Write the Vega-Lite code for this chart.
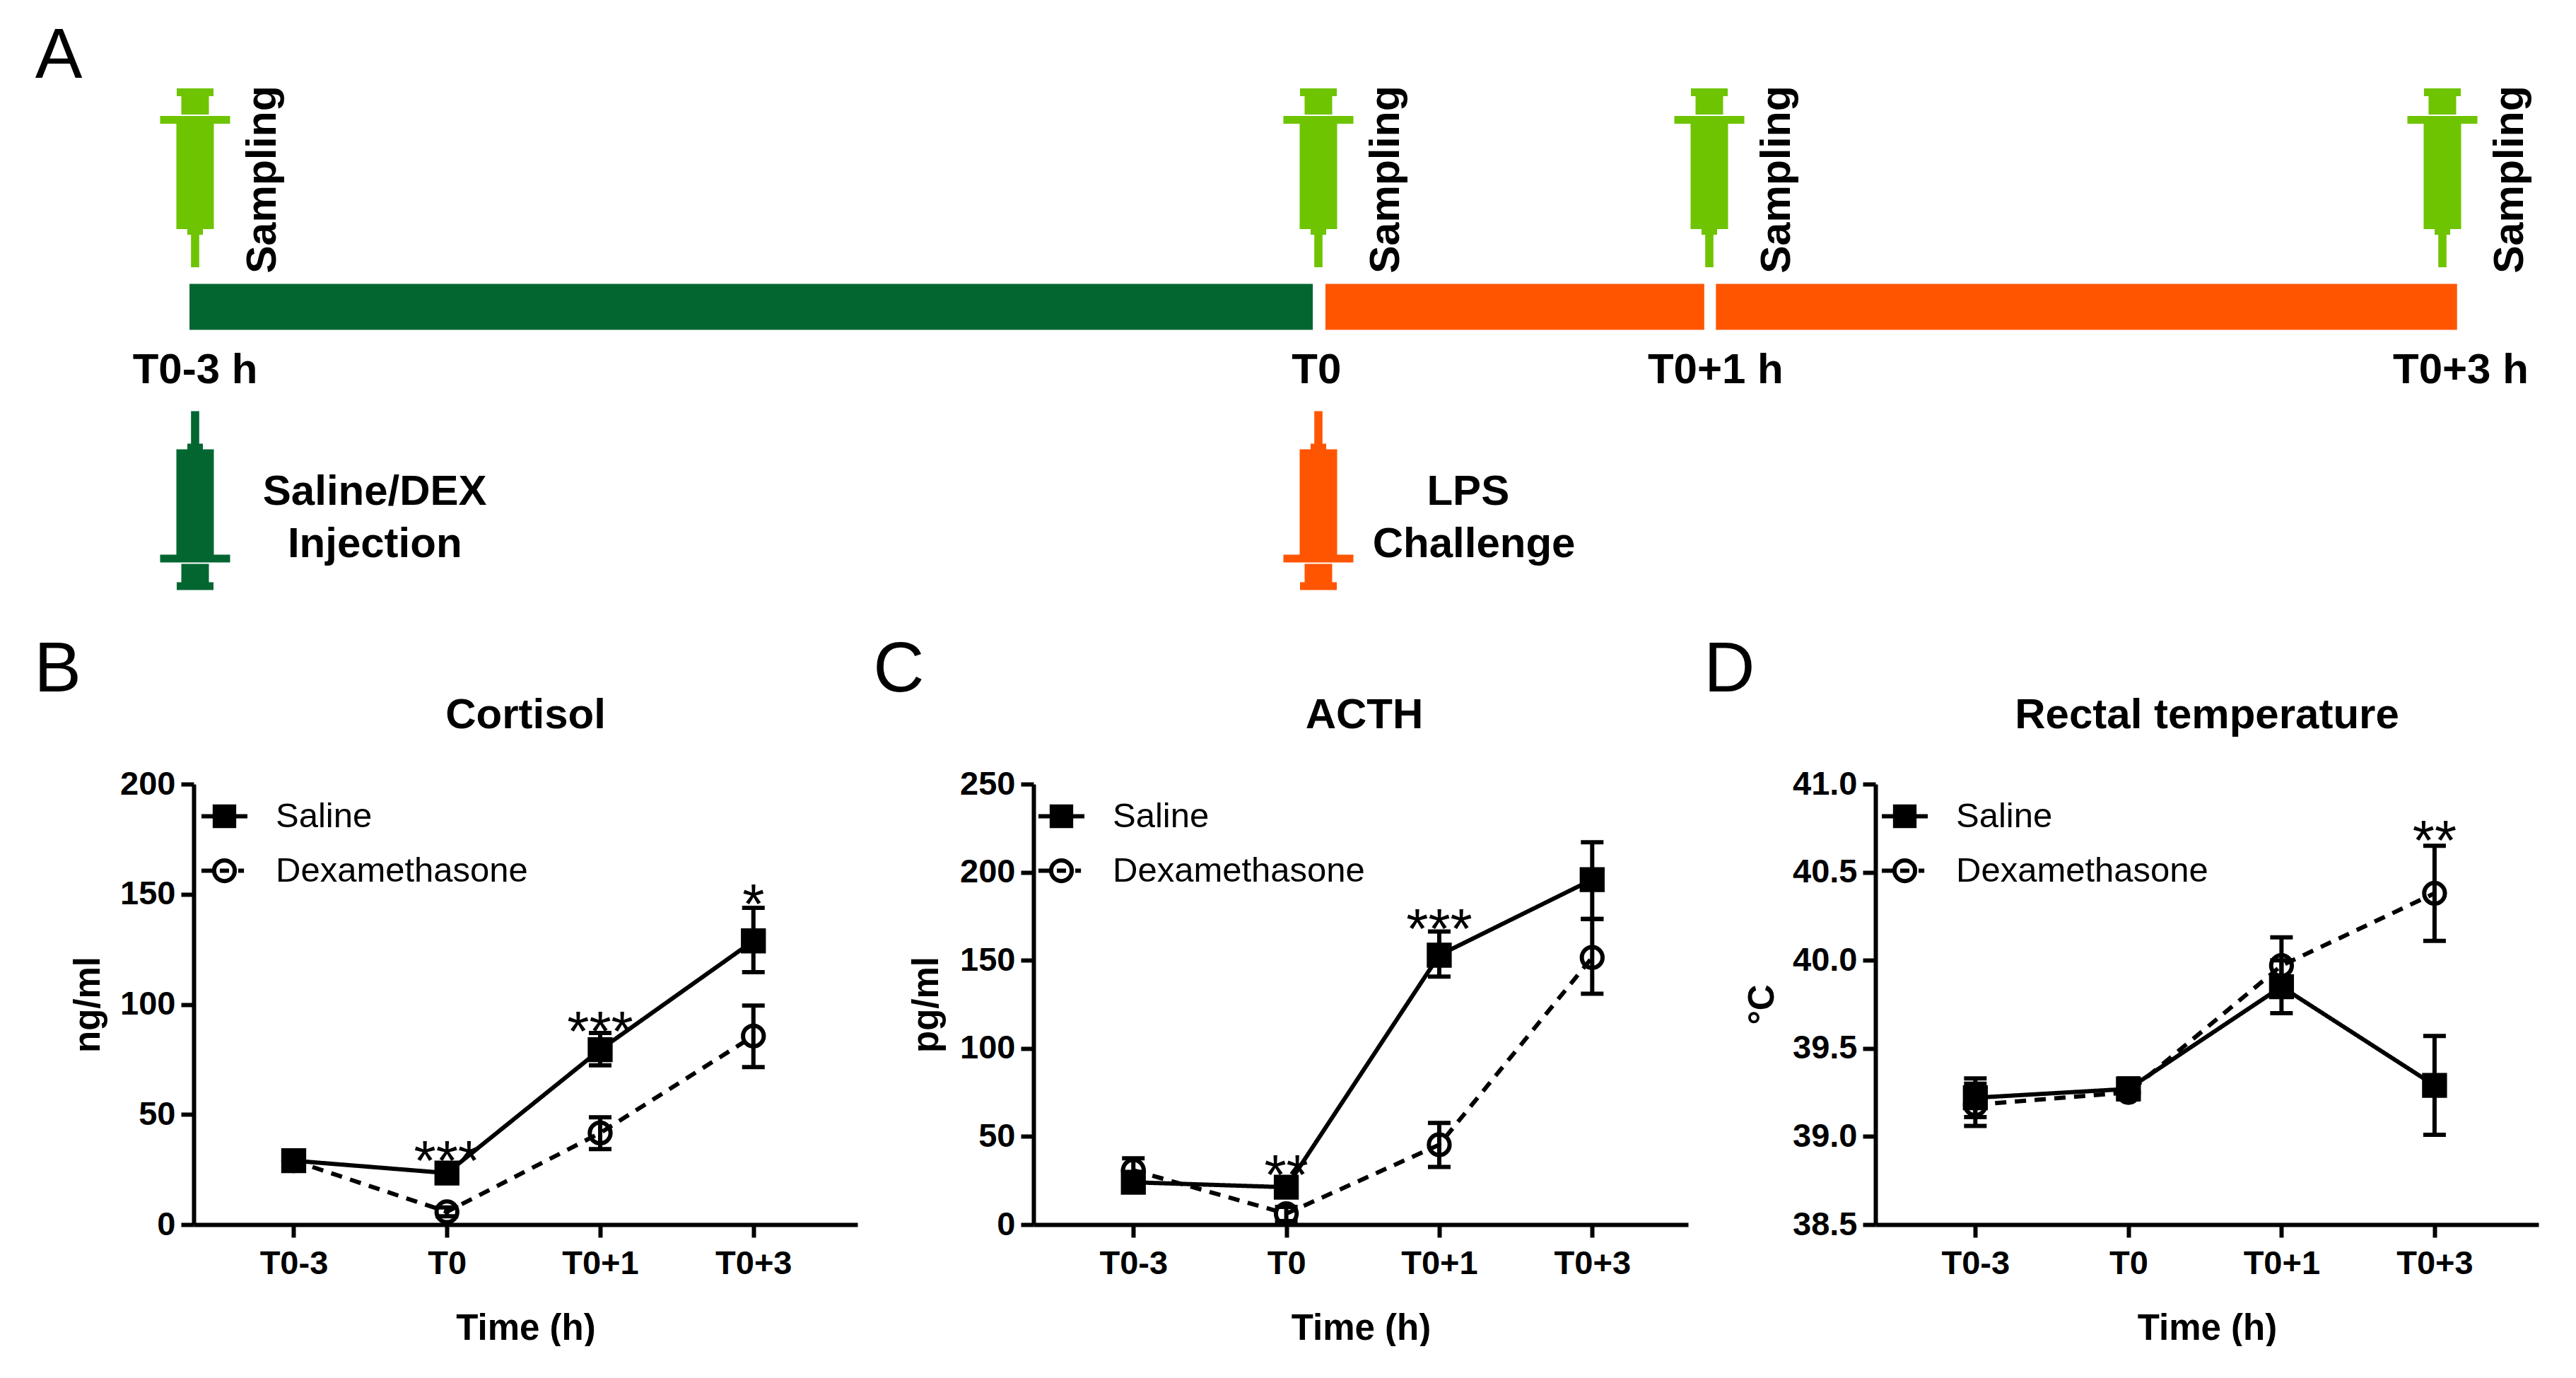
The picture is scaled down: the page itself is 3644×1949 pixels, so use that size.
{
"$schema":"https://vega.github.io/schema/vega-lite/v6.json",
"background":"white",
"padding":{"left":48,"top":0,"right":0,"bottom":0},
"spacing":18,
"resolve":{"scale":{"shape":"independent","fill":"independent","strokeDash":"independent"},"legend":{"fill":"independent"}},
"config":{
 "view":{"stroke":null},
 "font":"Liberation Sans",
 "title":{"font":"Liberation Sans","fontSize":60,"fontWeight":"bold","color":"#000","offset":48,"dy":193},
 "axis":{"grid":false,"domainColor":"#000","domainWidth":6,"tickColor":"#000","tickWidth":6,"tickSize":18,"labelColor":"#000","labelFont":"Liberation Sans","labelFontSize":47,"labelFontWeight":"bold","titleFont":"Liberation Sans","titleFontSize":51,"titleFontWeight":"bold","titleColor":"#000"},
 "legend":{"labelFont":"Liberation Sans","labelFontSize":49,"labelColor":"#000","symbolSize":4225,"symbolStrokeWidth":6,"rowPadding":15,"padding":0,"labelOffset":37,"labelLimit":600}
},
"datasets":{
 "cortisol":[
  {"time":"T0-3","group":"Saline","mean":29,"low":26,"high":32},
  {"time":"T0","group":"Saline","mean":23.4,"low":20.5,"high":26.5},
  {"time":"T0+1","group":"Saline","mean":79.4,"low":72.3,"high":87},
  {"time":"T0+3","group":"Saline","mean":128.8,"low":114.6,"high":143.8},
  {"time":"T0-3","group":"Dexamethasone","mean":29,"low":26,"high":32},
  {"time":"T0","group":"Dexamethasone","mean":5.8,"low":3.8,"high":7.8},
  {"time":"T0+1","group":"Dexamethasone","mean":41.6,"low":34.3,"high":48.7},
  {"time":"T0+3","group":"Dexamethasone","mean":85.6,"low":71.5,"high":99.4}],
 "cortisolStars":[{"time":"T0","mean":33,"stars":"***"},{"time":"T0+1","mean":91.8,"stars":"***"},{"time":"T0+3","mean":149.6,"stars":"*"}],
 "acth":[
  {"time":"T0-3","group":"Saline","mean":24,"low":19,"high":29},
  {"time":"T0","group":"Saline","mean":21.2,"low":17,"high":25.5},
  {"time":"T0+1","group":"Saline","mean":152.9,"low":140.8,"high":166.3},
  {"time":"T0+3","group":"Saline","mean":195.8,"low":173.5,"high":217},
  {"time":"T0-3","group":"Dexamethasone","mean":30.8,"low":24,"high":37.6},
  {"time":"T0","group":"Dexamethasone","mean":6.2,"low":2,"high":10},
  {"time":"T0+1","group":"Dexamethasone","mean":45.3,"low":32.7,"high":57.7},
  {"time":"T0+3","group":"Dexamethasone","mean":151.6,"low":131,"high":173.5}],
 "acthStars":[{"time":"T0","mean":33.5,"stars":"**"},{"time":"T0+1","mean":173,"stars":"***"}],
 "temperature":[
  {"time":"T0-3","group":"Saline","mean":39.22,"low":39.11,"high":39.33},
  {"time":"T0","group":"Saline","mean":39.27,"low":39.21,"high":39.33},
  {"time":"T0+1","group":"Saline","mean":39.85,"low":39.7,"high":40.0},
  {"time":"T0+3","group":"Saline","mean":39.29,"low":39.01,"high":39.57},
  {"time":"T0-3","group":"Dexamethasone","mean":39.18,"low":39.06,"high":39.3},
  {"time":"T0","group":"Dexamethasone","mean":39.25,"low":39.21,"high":39.29},
  {"time":"T0+1","group":"Dexamethasone","mean":39.97,"low":39.82,"high":40.13},
  {"time":"T0+3","group":"Dexamethasone","mean":40.38,"low":40.11,"high":40.65}],
 "temperatureStars":[{"time":"T0+3","mean":40.73,"stars":"**"}],
 "phases":[
  {"start":-3.015,"end":-0.015,"phase":"Saline/DEX"},
  {"start":0.018,"end":0.987,"phase":"LPS"},
  {"start":1.018,"end":3.04,"phase":"LPS"}],
 "sampling":[{"time":-3,"label":"Sampling"},{"time":0,"label":"Sampling"},{"time":1,"label":"Sampling"},{"time":3,"label":"Sampling"}],
 "timeLabels":[{"time":-3,"label":"T0-3 h"},{"time":-0.005,"label":"T0"},{"time":1.017,"label":"T0+1 h"},{"time":3.05,"label":"T0+3 h"}],
 "injections":[{"time":-3,"agent":"Saline/DEX"},{"time":0,"agent":"LPS"}],
 "notesTop":[{"time":-2.52,"label":"Saline/DEX"},{"time":0.383,"label":"LPS"}],
 "notesBottom":[{"time":-2.52,"label":"Injection"},{"time":0.398,"label":"Challenge"}]
},
"vconcat":[
 {
  "width":3371,"height":880,
  "encoding":{"x":{"field":"time","type":"quantitative","axis":null,"scale":{"domain":[-3,0,1,3],"range":[2,1591,2144,3181]}}},
  "layer":[
   {"data":{"name":"phases"},"mark":{"type":"rule","strokeWidth":65,"strokeCap":"butt"},
    "encoding":{"x":{"field":"start","type":"quantitative"},"x2":{"field":"end"},
     "y":{"datum":4.932,"type":"quantitative","axis":null,"scale":{"domain":[0,10],"range":[0,880]}},
     "color":{"field":"phase","type":"nominal","legend":null,"scale":{"domain":["Saline/DEX","LPS"],"range":["#036631","#FF5500"]}}}},
   {"data":{"name":"sampling"},"mark":{"type":"point","filled":true,"opacity":1,"size":40000,"color":"#6EC400","shape":"M-0.26,-1.265H0.26V-1.155H0.195V-0.895H-0.195V-1.155H-0.26ZM-0.495,-0.875H0.495V-0.765H0.265V0.725H0.11V0.805H0.058V1.265H-0.058V0.805H-0.11V0.725H-0.265V-0.765H-0.495Z"},
    "encoding":{"y":{"datum":2.858,"type":"quantitative"}}},
   {"data":{"name":"sampling"},"mark":{"type":"text","font":"Liberation Sans","fontSize":59,"fontWeight":"bold","angle":270,"align":"center","baseline":"middle","color":"#000","xOffset":96},
    "encoding":{"y":{"datum":2.886,"type":"quantitative"},"text":{"field":"label"}}},
   {"data":{"name":"timeLabels"},"mark":{"type":"text","font":"Liberation Sans","fontSize":60,"fontWeight":"bold","align":"center","baseline":"middle","color":"#000"},
    "encoding":{"y":{"datum":5.955,"type":"quantitative"},"text":{"field":"label"}}},
   {"data":{"name":"injections"},"mark":{"type":"point","filled":true,"opacity":1,"size":40000,"shape":"M-0.26,1.265H0.26V1.155H0.195V0.895H-0.195V1.155H-0.26ZM-0.495,0.875H0.495V0.765H0.265V-0.725H0.11V-0.805H0.058V-1.265H-0.058V-0.805H-0.11V-0.725H-0.265V0.765H-0.495Z"},
    "encoding":{"y":{"datum":8.045,"type":"quantitative"},"color":{"field":"agent","type":"nominal","legend":null,"scale":{"domain":["Saline/DEX","LPS"],"range":["#036631","#FF5500"]}}}},
   {"data":{"name":"notesTop"},"mark":{"type":"text","font":"Liberation Sans","fontSize":60,"fontWeight":"bold","align":"center","baseline":"middle","color":"#000"},
    "encoding":{"y":{"datum":7.909,"type":"quantitative"},"text":{"field":"label"}}},
   {"data":{"name":"notesBottom"},"mark":{"type":"text","font":"Liberation Sans","fontSize":60,"fontWeight":"bold","align":"center","baseline":"middle","color":"#000"},
    "encoding":{"y":{"datum":8.75,"type":"quantitative"},"text":{"field":"label"}}},
   {"data":{"values":[{"time":-3,"panel":"A"}]},"mark":{"type":"text","font":"Liberation Sans","fontSize":100,"align":"center","baseline":"middle","color":"#000","xOffset":-193},
    "encoding":{"y":{"datum":0.909,"type":"quantitative"},"text":{"field":"panel"}}}
  ]
 },
 {
  "resolve":{"scale":{"shape":"independent","fill":"independent","strokeDash":"independent"},"legend":{"fill":"independent"}},
  "hconcat":[
   {
    "width":939,"height":623,
    "title":"Cortisol",
    "encoding":{
     "x":{"field":"time","type":"nominal","sort":null,"title":"Time (h)","scale":{"type":"point","domain":["T0-3","T0","T0+1","T0+3"],"padding":0.666,"align":0.49},"axis":{"labelAngle":0,"labelPadding":14,"titlePadding":44}},
     "y":{"field":"mean","type":"quantitative","title":"ng/ml","scale":{"domain":[0,200],"nice":false},"axis":{"values":[0,50,100,150,200],"labelPadding":8,"titleX":-123}}
    },
    "layer":[
     {"data":{"name":"cortisol"},"mark":{"type":"line","color":"#000","strokeWidth":6},"encoding":{"strokeDash":{"field":"group","type":"nominal","legend":null,"scale":{"domain":["Dexamethasone","Saline"],"range":[[16,12],[1,0]]}}}},
     {"data":{"name":"cortisol"},"mark":{"type":"rule","color":"#000","strokeWidth":6},"encoding":{"y":{"field":"low","type":"quantitative"},"y2":{"field":"high"}}},
     {"data":{"name":"cortisol"},"mark":{"type":"tick","color":"#000","thickness":6,"size":32,"opacity":1},"encoding":{"y":{"field":"low","type":"quantitative"}}},
     {"data":{"name":"cortisol"},"mark":{"type":"tick","color":"#000","thickness":6,"size":32,"opacity":1},"encoding":{"y":{"field":"high","type":"quantitative"}}},
     {"data":{"name":"cortisol"},"mark":{"type":"point","filled":true,"opacity":1,"stroke":"#000","strokeWidth":6,"size":860},
      "encoding":{
       "shape":{"field":"group","type":"nominal","legend":null,"scale":{"domain":["Dexamethasone","Saline"],"range":["circle","square"]}},
       "fill":{"field":"group","type":"nominal","title":null,"scale":{"domain":["Saline","Dexamethasone"],"range":["#000","transparent"]},
        "legend":{"orient":"none","legendX":8,"legendY":10,"title":null,"encoding":{"symbols":{
         "shape":{"value":{"expr":"datum.value === 'Saline' ? 'M-1,0H1M-0.42,-0.42H0.42V0.42H-0.42Z' : 'M-0.45,0A0.45,0.45 0 1 1 0.45,0A0.45,0.45 0 1 1 -0.45,0ZM-1,0H-0.5M-0.2,0H0.2M0.6,0H0.85'"}},
         "stroke":{"value":"#000"},"opacity":{"value":1}}}}}}},
     {"data":{"name":"cortisolStars"},"mark":{"type":"text","font":"Liberation Sans","fontSize":80,"baseline":"alphabetic","align":"center","color":"#000","yOffset":40},"encoding":{"text":{"field":"stars"}}},
     {"data":{"values":[{"panel":"B","time":"T0-3","mean":200}]},"mark":{"type":"text","font":"Liberation Sans","fontSize":100,"baseline":"middle","align":"center","color":"#000","xOffset":-334,"yOffset":-161},"encoding":{"text":{"field":"panel"}}}
    ]
   },
   {
    "width":926,"height":623,
    "title":{"text":"ACTH","dx":5},
    "encoding":{
     "x":{"field":"time","type":"nominal","sort":null,"title":"Time (h)","scale":{"type":"point","domain":["T0-3","T0","T0+1","T0+3"],"padding":0.64,"align":0.51},"axis":{"labelAngle":0,"labelPadding":14,"titlePadding":44}},
     "y":{"field":"mean","type":"quantitative","title":"pg/ml","scale":{"domain":[0,250],"nice":false},"axis":{"values":[0,50,100,150,200,250],"labelPadding":8,"titleX":-125}}
    },
    "layer":[
     {"data":{"name":"acth"},"mark":{"type":"line","color":"#000","strokeWidth":6},"encoding":{"strokeDash":{"field":"group","type":"nominal","legend":null,"scale":{"domain":["Dexamethasone","Saline"],"range":[[16,12],[1,0]]}}}},
     {"data":{"name":"acth"},"mark":{"type":"rule","color":"#000","strokeWidth":6},"encoding":{"y":{"field":"low","type":"quantitative"},"y2":{"field":"high"}}},
     {"data":{"name":"acth"},"mark":{"type":"tick","color":"#000","thickness":6,"size":32,"opacity":1},"encoding":{"y":{"field":"low","type":"quantitative"}}},
     {"data":{"name":"acth"},"mark":{"type":"tick","color":"#000","thickness":6,"size":32,"opacity":1},"encoding":{"y":{"field":"high","type":"quantitative"}}},
     {"data":{"name":"acth"},"mark":{"type":"point","filled":true,"opacity":1,"stroke":"#000","strokeWidth":6,"size":860},
      "encoding":{
       "shape":{"field":"group","type":"nominal","legend":null,"scale":{"domain":["Dexamethasone","Saline"],"range":["circle","square"]}},
       "fill":{"field":"group","type":"nominal","title":null,"scale":{"domain":["Saline","Dexamethasone"],"range":["#000","transparent"]},
        "legend":{"orient":"none","legendX":4,"legendY":10,"title":null,"encoding":{"symbols":{
         "shape":{"value":{"expr":"datum.value === 'Saline' ? 'M-1,0H1M-0.42,-0.42H0.42V0.42H-0.42Z' : 'M-0.45,0A0.45,0.45 0 1 1 0.45,0A0.45,0.45 0 1 1 -0.45,0ZM-1,0H-0.5M-0.2,0H0.2M0.6,0H0.85'"}},
         "stroke":{"value":"#000"},"opacity":{"value":1}}}}}}},
     {"data":{"name":"acthStars"},"mark":{"type":"text","font":"Liberation Sans","fontSize":80,"baseline":"alphabetic","align":"center","color":"#000","yOffset":40},"encoding":{"text":{"field":"stars"}}},
     {"data":{"values":[{"panel":"C","time":"T0-3","mean":250}]},"mark":{"type":"text","font":"Liberation Sans","fontSize":100,"baseline":"middle","align":"center","color":"#000","xOffset":-332,"yOffset":-161},"encoding":{"text":{"field":"panel"}}}
    ]
   },
   {
    "width":938,"height":623,
    "title":"Rectal temperature",
    "encoding":{
     "x":{"field":"time","type":"nominal","sort":null,"title":"Time (h)","scale":{"type":"point","domain":["T0-3","T0","T0+1","T0+3"],"padding":0.666,"align":0.49},"axis":{"labelAngle":0,"labelPadding":14,"titlePadding":44}},
     "y":{"field":"mean","type":"quantitative","title":"°C","scale":{"domain":[38.5,41],"nice":false,"zero":false},"axis":{"values":[38.5,39,39.5,40,40.5,41],"format":".1f","labelPadding":8,"titleX":-134}}
    },
    "layer":[
     {"data":{"name":"temperature"},"mark":{"type":"line","color":"#000","strokeWidth":6},"encoding":{"strokeDash":{"field":"group","type":"nominal","legend":null,"scale":{"domain":["Dexamethasone","Saline"],"range":[[16,12],[1,0]]}}}},
     {"data":{"name":"temperature"},"mark":{"type":"rule","color":"#000","strokeWidth":6},"encoding":{"y":{"field":"low","type":"quantitative"},"y2":{"field":"high"}}},
     {"data":{"name":"temperature"},"mark":{"type":"tick","color":"#000","thickness":6,"size":32,"opacity":1},"encoding":{"y":{"field":"low","type":"quantitative"}}},
     {"data":{"name":"temperature"},"mark":{"type":"tick","color":"#000","thickness":6,"size":32,"opacity":1},"encoding":{"y":{"field":"high","type":"quantitative"}}},
     {"data":{"name":"temperature"},"mark":{"type":"point","filled":true,"opacity":1,"stroke":"#000","strokeWidth":6,"size":860},
      "encoding":{
       "shape":{"field":"group","type":"nominal","legend":null,"scale":{"domain":["Dexamethasone","Saline"],"range":["circle","square"]}},
       "fill":{"field":"group","type":"nominal","title":null,"scale":{"domain":["Saline","Dexamethasone"],"range":["#000","transparent"]},
        "legend":{"orient":"none","legendX":6,"legendY":10,"title":null,"encoding":{"symbols":{
         "shape":{"value":{"expr":"datum.value === 'Saline' ? 'M-1,0H1M-0.42,-0.42H0.42V0.42H-0.42Z' : 'M-0.45,0A0.45,0.45 0 1 1 0.45,0A0.45,0.45 0 1 1 -0.45,0ZM-1,0H-0.5M-0.2,0H0.2M0.6,0H0.85'"}},
         "stroke":{"value":"#000"},"opacity":{"value":1}}}}}}},
     {"data":{"name":"temperatureStars"},"mark":{"type":"text","font":"Liberation Sans","fontSize":80,"baseline":"alphabetic","align":"center","color":"#000","yOffset":40},"encoding":{"text":{"field":"stars"}}},
     {"data":{"values":[{"panel":"D","time":"T0-3","mean":41}]},"mark":{"type":"text","font":"Liberation Sans","fontSize":100,"baseline":"middle","align":"center","color":"#000","xOffset":-348,"yOffset":-161},"encoding":{"text":{"field":"panel"}}}
    ]
   }
  ],
  "spacing":22
 }
]
}
